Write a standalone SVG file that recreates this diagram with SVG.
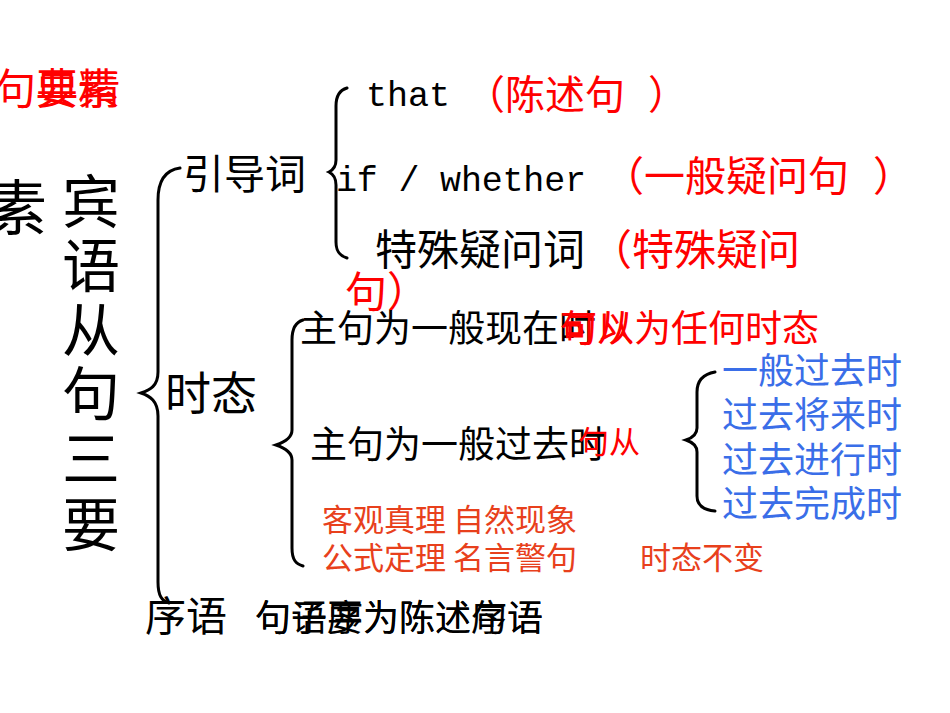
<svg xmlns="http://www.w3.org/2000/svg" width="950" height="713" viewBox="0 0 950 713">
<style>
.cjk{font-family:"Noto Sans CJK SC","Noto Sans",sans-serif;}
.en{font-family:"Liberation Mono","DejaVu Sans Mono",monospace;}
.k{fill:#000}
.r{fill:#ff0000}
.o{fill:#e8401c}
.b{fill:#3a6ee8}
.br{fill:none;stroke:#000;stroke-width:3;stroke-linecap:round}
</style>
<rect width="950" height="713" fill="#fff"/>
<g id="title">
<text class="cjk r" x="-6" y="104" font-size="42">句要素</text>
<text class="cjk r" x="36" y="104" font-size="42">典精</text>
<text class="cjk k" x="-13" y="230" font-size="60">素</text>
<text class="cjk k" font-size="58"><tspan x="62" y="223">宾</tspan><tspan x="62" y="287">语</tspan><tspan x="62" y="351">从</tspan><tspan x="62" y="415">句</tspan><tspan x="62" y="480">三</tspan><tspan x="62" y="546">要</tspan></text>
</g>
<g id="connectors">
<path class="br" d="M180,168 C166,170 158,180 158,200 L158,372 C158,386 150,390 141,393 C150,396 158,401 158,416 L158,582 C158,596 162,601 169,603"/>
<path class="br" d="M347,88 C340,90 336,96 336,106 L336,160 C336,167 333,170 329,172 C333,174 336,178 336,185 L336,242 C336,252 340,256 347,258"/>
<path class="br" d="M303,320 C296,322 292,328 292,340 L292,430 C292,438 285,442 276,445 C285,448 292,452 292,460 L292,548 C292,560 296,564 303,566"/>
<path class="br" d="M715,372 C704,374 697,380 697,392 L697,428 C697,435 692,438 686,440 C692,442 697,445 697,452 L697,496 C697,506 704,510 715,511"/>
</g>
<g id="n-yindaoci">
<text class="cjk k" x="183" y="189" font-size="41">引导词</text>
</g>
<g id="n-that">
<text class="en k" x="366" y="106" font-size="35">that</text>
<text class="cjk r" x="465" y="109" font-size="40">（陈述句</text>
<text class="cjk r" x="648" y="109" font-size="40">）</text>
</g>
<g id="n-whether">
<text class="en k" x="336" y="191" font-size="35" textLength="250" lengthAdjust="spacing">if / whether</text>
<text class="cjk r" x="603" y="191" font-size="41">（一般疑问句</text>
<text class="cjk r" x="873" y="191" font-size="41">）</text>
</g>
<g id="n-teshu">
<text class="cjk k" x="375" y="265" font-size="42">特殊疑问词</text>
<text class="cjk r" x="590" y="265" font-size="42">（特殊疑问</text>
<text class="cjk r" x="345" y="307" font-size="42">句）</text>
</g>
<g id="n-shitai">
<text class="cjk k" x="165" y="410" font-size="46">时态</text>
</g>
<g id="n-xianzai">
<text class="cjk k" x="300" y="342" font-size="37">主句为一般现在时</text>
<text class="cjk r" x="560" y="342" font-size="37">可以为任何时态</text>
<text class="cjk r" x="560" y="342" font-size="37">句从</text>
</g>
<g id="n-guoqu">
<text class="cjk k" x="310" y="458" font-size="37">主句为一般过去时</text>
<text class="cjk r" x="578" y="453" font-size="31">句从</text>
</g>
<g id="n-blue">
<text class="cjk b" x="722" y="384" font-size="36">一般过去时</text>
<text class="cjk b" x="722" y="428" font-size="36">过去将来时</text>
<text class="cjk b" x="722" y="473" font-size="36">过去进行时</text>
<text class="cjk b" x="722" y="517" font-size="36">过去完成时</text>
</g>
<g id="n-zhenli">
<text class="cjk o" x="322" y="531" font-size="31">客观真理 自然现象</text>
<text class="cjk o" x="322" y="569" font-size="31">公式定理 名言警句</text>
<text class="cjk o" x="640" y="569" font-size="31">时态不变</text>
</g>
<g id="n-xuyu">
<text class="cjk k" x="145" y="631" font-size="41">序语</text>
<text class="cjk k" x="255" y="631" font-size="36">句子要为陈述句语</text>
<text class="cjk k" x="255" y="631" font-size="36">句语序为陈述序语</text>
</g>
</svg>
